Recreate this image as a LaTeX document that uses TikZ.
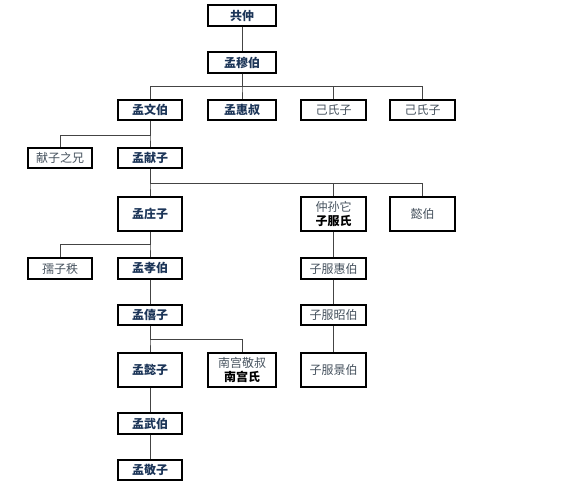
\documentclass[tikz,border=0pt]{standalone}
\usepackage{fontspec}
\newfontfamily\cjk{Noto Sans CJK SC}
\definecolor{navy}{HTML}{1C3558}
\definecolor{slate}{HTML}{46525E}
\definecolor{connc}{HTML}{444444}
\begin{document}
\begin{tikzpicture}[x=1pt,y=-1pt,
  box/.style={draw=black,line width=1.6pt,fill=white,minimum height=20.5pt,inner sep=0pt,font=\cjk\fontsize{12}{13.5}\selectfont,align=center},
  wa/.style={box,minimum width=64.5pt},
  wb/.style={box,minimum width=68.5pt},
  tall/.style={minimum height=34.5pt},
  main/.style={text=navy,font=\cjk\bfseries\fontsize{12}{13.5}\selectfont},
  side/.style={text=slate},
  conn/.style={draw=connc,line width=0.8pt}]
\useasboundingbox (0,0) rectangle (569,484);
% bus levels
\coordinate (b1) at (0,86);
\coordinate (b2) at (0,135);
\coordinate (b3) at (0,183);
\coordinate (b4) at (0,244);
\coordinate (b5) at (0,339);
% nodes
\node[wb,main] (gz) at (242,15.5) {共仲};
\node[wb,main] (mmb) at (242,62.5) {孟穆伯};
\node[wa,main] (mwb) at (150,110) {孟文伯};
\node[wb,main] (mhs) at (242,110) {孟惠叔};
\node[wa,side] (jsz1) at (333.5,110) {己氏子};
\node[wa,side] (jsz2) at (422.5,110) {己氏子};
\node[wa,side] (xzzx) at (60,158) {献子之兄};
\node[wa,main] (mxz) at (150,158) {孟献子};
\node[wa,tall,main] (mzz) at (150,214) {孟庄子};
\node[wa,tall] (zft) at (333.5,214) {{\color{slate}仲孙它}\\{\bfseries 子服氏}};
\node[wa,tall,side] (yb) at (422.5,214) {懿伯};
\node[wa,side] (rzz) at (60,268.5) {孺子秩};
\node[wa,main] (mxb) at (150,268.5) {孟孝伯};
\node[wa,side] (zfhb) at (333.5,268.5) {子服惠伯};
\node[wa,main] (mxiz) at (150,315) {孟僖子};
\node[wa,side] (zfzb) at (333.5,315) {子服昭伯};
\node[wa,tall,main] (myz) at (150,370) {孟懿子};
\node[wb,tall] (ngs) at (242,370) {{\color{slate}南宫敬叔}\\{\bfseries 南宫氏}};
\node[wa,tall,side] (zfjb) at (333.5,370) {子服景伯};
\node[wa,main] (mwub) at (150,423.5) {孟武伯};
\node[wa,main] (mjz) at (150,470) {孟敬子};
% connectors
\draw[conn] (gz) -- (mmb);
\foreach \c in {mwb,mhs,jsz1,jsz2}
  \draw[conn] (mmb.south) |- (\c.north |- b1) -- (\c.north);
\foreach \c in {xzzx,mxz}
  \draw[conn] (mwb.south) |- (\c.north |- b2) -- (\c.north);
\foreach \c in {mzz,zft,yb}
  \draw[conn] (mxz.south) |- (\c.north |- b3) -- (\c.north);
\foreach \c in {rzz,mxb}
  \draw[conn] (mzz.south) |- (\c.north |- b4) -- (\c.north);
\draw[conn] (mxb) -- (mxiz);
\foreach \c in {myz,ngs}
  \draw[conn] (mxiz.south) |- (\c.north |- b5) -- (\c.north);
\draw[conn] (myz) -- (mwub);
\draw[conn] (mwub) -- (mjz);
\draw[conn] (zft) -- (zfhb);
\draw[conn] (zfhb) -- (zfzb);
\draw[conn] (zfzb) -- (zfjb);
\end{tikzpicture}
\end{document}
